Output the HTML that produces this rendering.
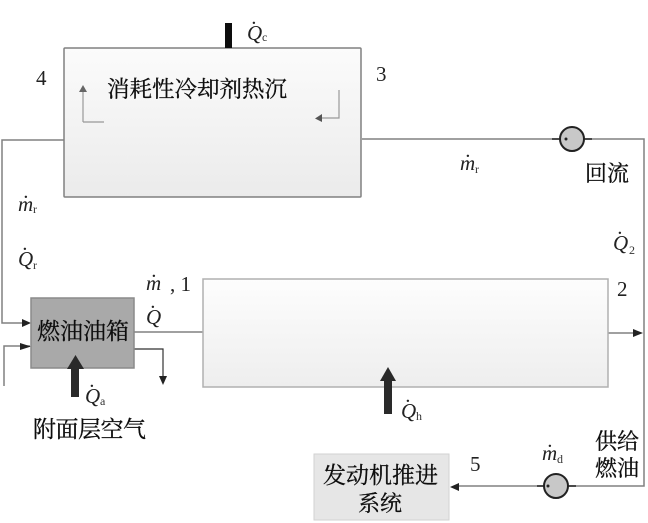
<!DOCTYPE html>
<html><head><meta charset="utf-8"><style>
html,body{margin:0;padding:0;background:#fff}
svg{display:block}
.c{font-family:"Noto Serif CJK SC","Liberation Serif",serif;fill:#111;stroke:#111;stroke-width:.3}
.n{font-family:"Liberation Serif",serif;fill:#222;font-size:21px}
.i{font-family:"Liberation Serif",serif;font-style:italic;fill:#222;font-size:21px}
.s{font-family:"Liberation Serif",serif;fill:#333;font-size:12px}
.d{font-family:"Liberation Serif",serif;fill:#222;font-size:15px;font-weight:bold}
</style></head><body>
<svg width="648" height="523" viewBox="0 0 648 523" xmlns="http://www.w3.org/2000/svg">
<defs>
<linearGradient id="g1" x1="0" y1="0" x2="0" y2="1"><stop offset="0" stop-color="#fbfbfb"/><stop offset="1" stop-color="#ebebeb"/></linearGradient>
<linearGradient id="g2" x1="0" y1="0" x2="0" y2="1"><stop offset="0" stop-color="#fdfdfd"/><stop offset="1" stop-color="#eeeeee"/></linearGradient>
<filter id="b" x="0" y="0" width="100%" height="100%"><feGaussianBlur stdDeviation="0.35"/></filter>
</defs>
<g filter="url(#b)">
<rect width="648" height="523" fill="#fff"/>
<g fill="none" stroke="#808080" stroke-width="1.5">
<path d="M64 140H2V323H28"/>
<path d="M4 386V346H30"/>
<path d="M362 139H644V486H458"/>
<path d="M134 332H203"/>
<path d="M608 333H640"/>
</g>
<path d="M131 349H163V378" fill="none" stroke="#333" stroke-width="1.2"/>
<g fill="#222">
<path d="M22 319L31 323L22 327Z"/><path d="M20 343L31 346.500L20 350Z"/>
<path d="M159 376H167L163 385Z"/>
<path d="M633 329L643 333L633 337Z"/>
<path d="M450 487L459 483V491Z"/>
</g>
<rect x="64" y="48" width="297" height="149" fill="url(#g1)" stroke="#808080" stroke-width="1.500" rx="1"/>
<rect x="203" y="279" width="405" height="108" fill="url(#g2)" stroke="#b0b0b0" stroke-width="1.500"/>
<rect x="31" y="298" width="103" height="70" fill="#a9a9a9" stroke="#8a8a8a" stroke-width="1.500"/>
<rect x="314" y="454" width="135" height="66" fill="#e6e6e6" stroke="#d2d2d2"/>
<rect x="225" y="23" width="7" height="25" fill="#111"/>
<path d="M83 122V88M83 122H104" fill="none" stroke="#999" stroke-width="1.200"/>
<path d="M79 92L83 85L87 92Z" fill="#666"/>
<path d="M339 90V118H320" fill="none" stroke="#999" stroke-width="1.200"/>
<path d="M322 114L315 118.500L322 122Z" fill="#555"/>
<path d="M71 397V368H79V397Z" fill="#2a2a2a"/><path d="M67 369L75.500 355L84 369Z" fill="#2a2a2a"/>
<path d="M384 414V380H392V414Z" fill="#2a2a2a"/><path d="M380 381L388 367L396 381Z" fill="#2a2a2a"/>
<g stroke="#222" stroke-width="1.500">
<path d="M552 139H592M537 486H576" stroke-width="1.500"/>
<circle cx="572" cy="139" r="12" fill="#c8c8c8" stroke-width="2"/>
<circle cx="556" cy="486" r="12" fill="#c8c8c8" stroke-width="2"/>
</g>
<circle cx="566" cy="139" r="1.500" fill="#222"/><circle cx="548" cy="486" r="1.500" fill="#222"/>
<text x="107" y="97" class="c" font-size="22.500" textLength="180">消耗性冷却剂热沉</text>
<text x="37" y="339" class="c" font-size="23" textLength="92">燃油油箱</text>
<text x="33" y="437" class="c" font-size="23" textLength="113">附面层空气</text>
<text x="585" y="181" class="c" font-size="22">回流</text>
<text x="595" y="449" class="c" font-size="22">供给</text>
<text x="595" y="476" class="c" font-size="22">燃油</text>
<text x="323" y="483" class="c" font-size="23" textLength="115">发动机推进</text>
<text x="358" y="511" class="c" font-size="22">系统</text>
<text x="36" y="85" class="n">4</text>
<text x="376" y="81" class="n">3</text>
<text x="617" y="296" class="n">2</text>
<text x="470" y="471" class="n">5</text>
<text x="170" y="291" class="n">, 1</text>
<text x="146" y="290" class="i">m</text><text x="152" y="277" class="d">.</text>
<text x="146" y="324" class="i">Q</text><text x="151" y="308" class="d">.</text>
<text x="247" y="40" class="i">Q</text><text x="252" y="24" class="d">.</text><text x="262" y="41" class="s">c</text>
<text x="18" y="211" class="i">m</text><text x="24" y="198" class="d">.</text><text x="33" y="213" class="s">r</text>
<text x="18" y="266" class="i">Q</text><text x="23" y="250" class="d">.</text><text x="33" y="269" class="s">r</text>
<text x="460" y="170" class="i">m</text><text x="466" y="157" class="d">.</text><text x="475" y="173" class="s">r</text>
<text x="613" y="250" class="i">Q</text><text x="618" y="234" class="d">.</text><text x="629" y="254" class="s">2</text>
<text x="85" y="403" class="i">Q</text><text x="90" y="387" class="d">.</text><text x="100" y="405" class="s">a</text>
<text x="401" y="418" class="i">Q</text><text x="406" y="402" class="d">.</text><text x="416" y="420" class="s">h</text>
<text x="542" y="460" class="i">m</text><text x="548" y="447" class="d">.</text><text x="557" y="463" class="s">d</text>
</g>
</svg>
</body></html>
